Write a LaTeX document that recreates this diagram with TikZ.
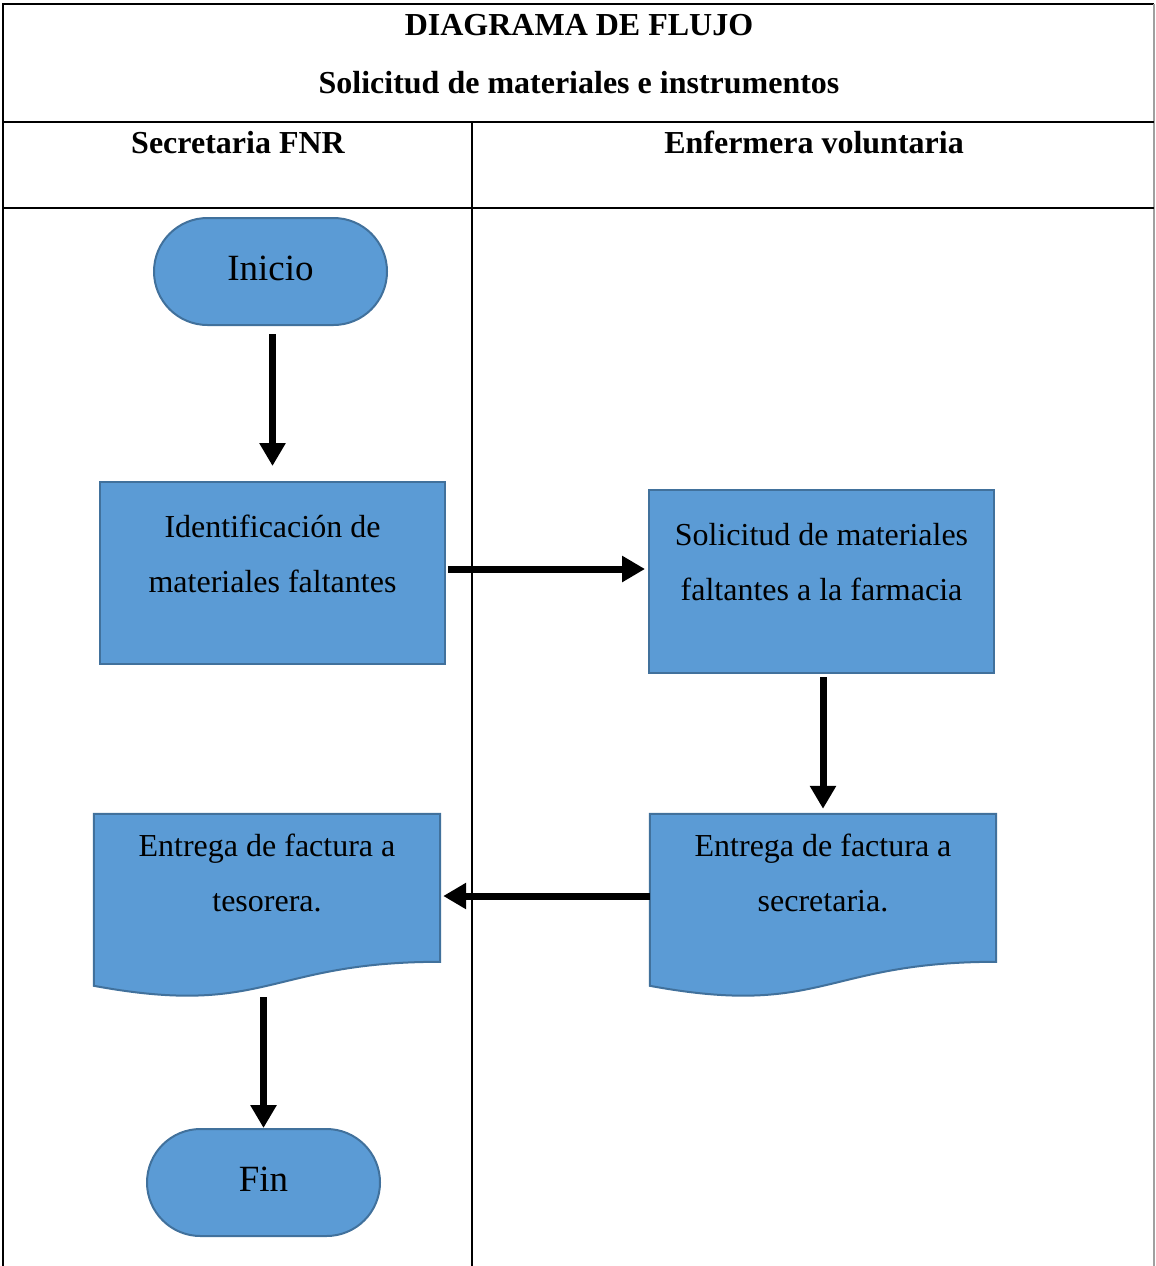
\documentclass[tikz,border=0pt]{standalone}
\usepackage{fontspec}
\setmainfont{Liberation Serif}
\usetikzlibrary{arrows.meta,calc,shapes.misc}
\definecolor{boxfill}{HTML}{5B9BD5}
\definecolor{boxline}{HTML}{41719C}
\definecolor{rimgray}{HTML}{A0A0A0}

\begin{document}
\begin{tikzpicture}[x=1pt,y=-1pt,
  rule/.style={line width=1.6pt, black},
  head/.style={font=\fontsize{32}{38}\selectfont\bfseries, anchor=base, inner sep=0pt},
  txt/.style={font=\fontsize{32}{55}\selectfont, align=center, inner sep=0pt, anchor=north},
  term/.style={rounded rectangle, fill=boxfill, draw=boxline, line width=2pt,
    minimum width=233pt, minimum height=107pt, inner sep=0pt,
    font=\fontsize{37}{40}\selectfont, text depth=7pt},
  procbox/.style={rectangle, fill=boxfill, draw=boxline, line width=2pt,
    minimum width=345pt, minimum height=182pt, inner sep=0pt},
  docframe/.style={rectangle, minimum width=346pt, minimum height=164pt, inner sep=0pt},
  docshape/.style={fill=boxfill, draw=boxline, line width=2pt},
  arr/.style={line width=7pt, -{Triangle[width=25pt,length=23pt]}}]

\useasboundingbox (0,0) rectangle (1156,1266);
\fill[white] (0,0) rectangle (1156,1266);

% table frame and lane dividers
\draw[rule] (3,1266) -- (3,4) -- (1154,4);
\draw[line width=1.6pt, rimgray] (1154,4) -- (1154,1266);
\draw[rule] (3,122) -- (1154,122);
\draw[rule] (3,208) -- (1154,208);
\draw[rule] (472,122) -- (472,1266);

% headings
\node[head] (title) at (579,35) {DIAGRAMA DE FLUJO};
\node[head] (subtitle) at (579,93) {Solicitud de materiales e instrumentos};
\node[head] (lane1) at (238,153) {Secretaria FNR};
\node[head] (lane2) at (814,153) {Enfermera voluntaria};

% terminals
\node[term] (I) at (270.5,271.5) {Inicio};
\node[term] (F) at (263.5,1182.5) {Fin};

% process boxes
\node[procbox] (A) at (272.5,573) {};
\node[txt] (At) at ($(A.north)+(0,34)$) {Identificación de\\materiales faltantes};
\node[procbox, minimum height=183pt] (B) at (821.5,581.5) {};
\node[txt] (Bt) at ($(B.north)+(0,34)$) {Solicitud de materiales\\faltantes a la farmacia};

% document shapes
\node[docframe] (R) at (823,896) {};
\path[docshape] (R.north west) -- (R.north east) -- ($(R.north east)+(0,148)$)
  .. controls ($(R.north)+(0,148)$) and ($(R.north)+(0,204)$) .. ($(R.north west)+(0,172)$) -- cycle;
\node[txt] (Rt) at ($(R.north)+(0,20)$) {Entrega de factura a\\secretaria.};

\node[docframe] (L) at (267,896) {};
\path[docshape] (L.north west) -- (L.north east) -- ($(L.north east)+(0,148)$)
  .. controls ($(L.north)+(0,148)$) and ($(L.north)+(0,204)$) .. ($(L.north west)+(0,172)$) -- cycle;
\node[txt] (Lt) at ($(L.north)+(0,20)$) {Entrega de factura a\\tesorera.};

% connectors
\draw[arr, shorten <=8pt, shorten >=15pt] (A.north |- I.south) -- (A.north);
\coordinate (a2) at ($(A.east)+(2,-4)$);
\draw[arr] (a2) -- ($(a2 -| B.west)+(-3,0)$);
\draw[arr, shorten <=3pt, shorten >=5pt] (B.south -| R.north) -- (R.north);
\draw[arr, shorten >=3pt] (R.west) -- (L.east);
\draw[arr] ($(F.north |- L.south)+(0,19)$) -- (F.north);

\end{tikzpicture}
\end{document}
